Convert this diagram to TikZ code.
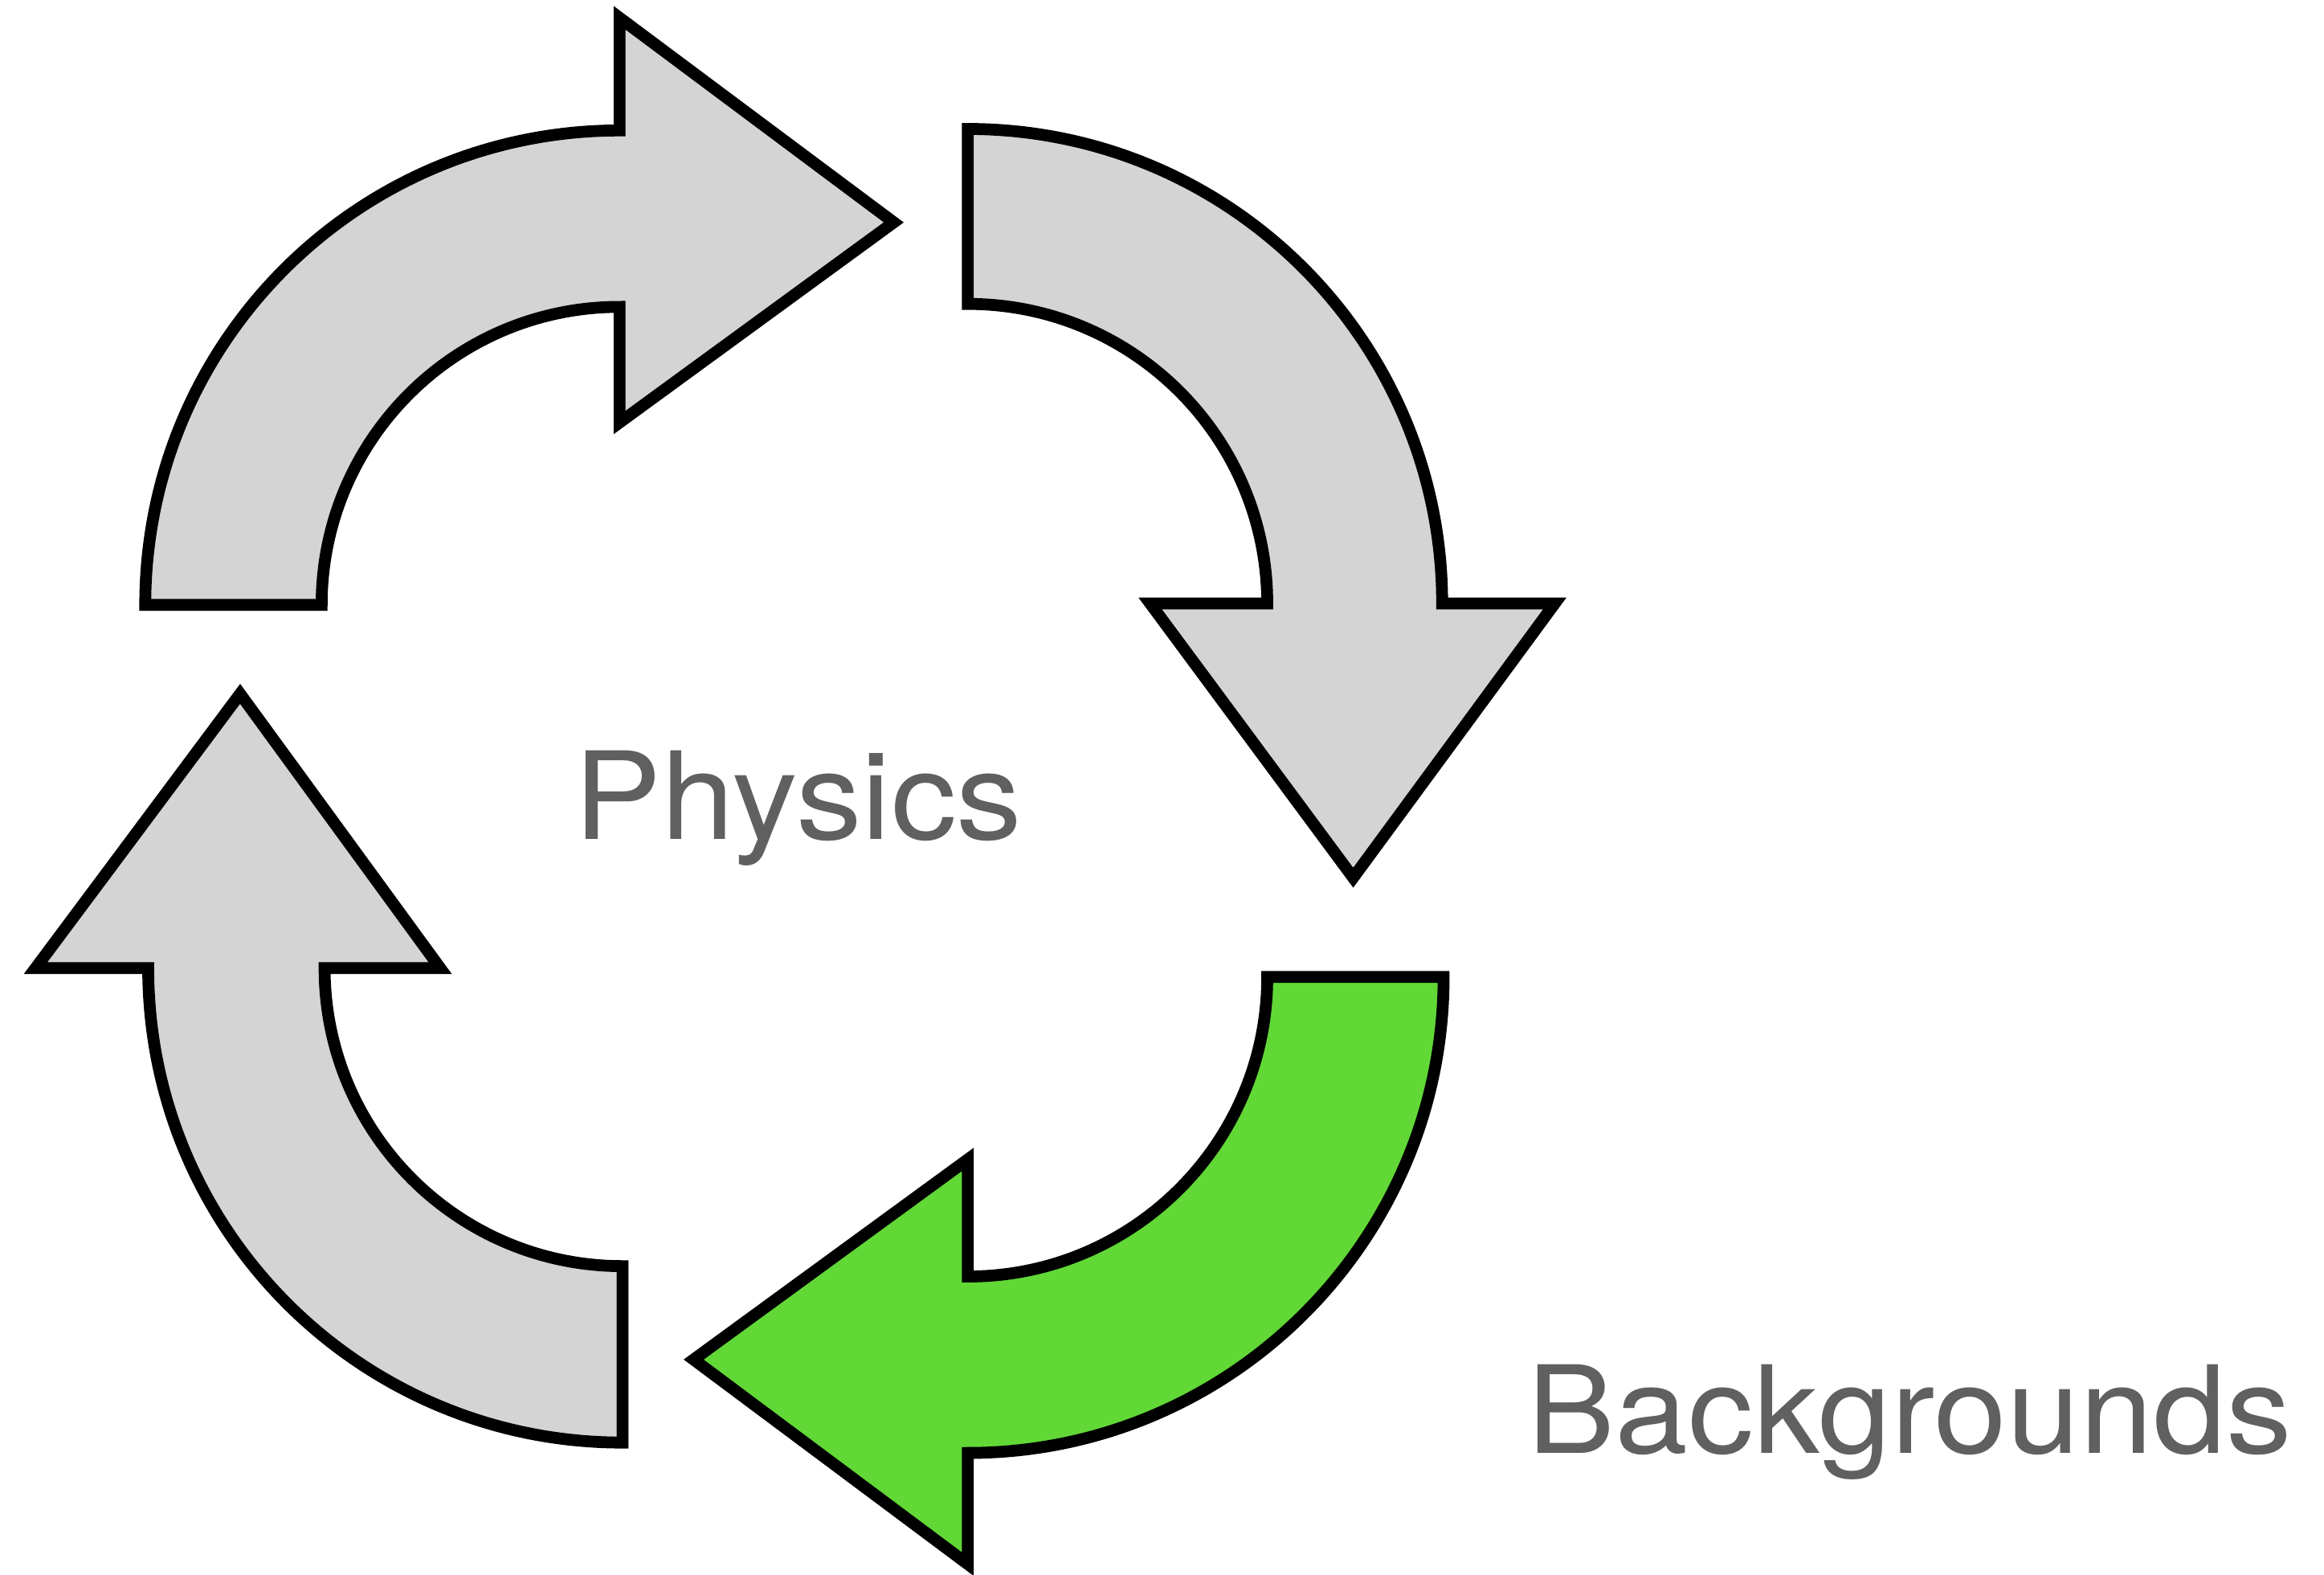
\documentclass[tikz,border=0pt]{standalone}
\usepackage{fontspec}
\setmainfont[FakeStretch=1.08]{TeX Gyre Heros}
\definecolor{ringgray}{RGB}{212,212,212}
\definecolor{ringgreen}{RGB}{97,216,54}
\definecolor{labelgray}{RGB}{96,96,96}
\begin{document}
\begin{tikzpicture}[x=1pt,y=1pt,
  ring/.style={draw=black,line width=8pt,fill=ringgray},
  cyclelabel/.style={text=labelgray,font=\fontsize{82}{100}\selectfont,inner sep=0pt,anchor=base}]
\useasboundingbox (0,0) rectangle (1568,1062);
% top left
\draw[ring] (98,654) arc[start angle=180,end angle=90,radius=320] -- (418,1050) -- (603,912) -- (418,777) -- (418,855) arc[start angle=90,end angle=180,radius=201] -- cycle;
% top right
\draw[ring] (653,975) arc[start angle=90,end angle=0,radius=320] -- (1049,655) -- (913,470) -- (776,655) -- (855,655) arc[start angle=0,end angle=90,radius=202] -- cycle;
% bottom right (green)
\draw[ring,fill=ringgreen] (974,403) arc[start angle=0,end angle=-90,radius=321] -- (653,7) -- (468,145) -- (653,280) -- (653,201) arc[start angle=-90,end angle=0,radius=202] -- cycle;
% bottom left
\draw[ring] (420,89) arc[start angle=-90,end angle=-180,radius=320] -- (24,409) -- (162,594) -- (297,409) -- (219,409) arc[start angle=180,end angle=270,radius=201] -- cycle;

\node[cyclelabel] (physics) at (538.5,496) {Physics};
\node[cyclelabel] (backgrounds) at (1288.5,82) {Backgrounds};
\end{tikzpicture}
\end{document}
